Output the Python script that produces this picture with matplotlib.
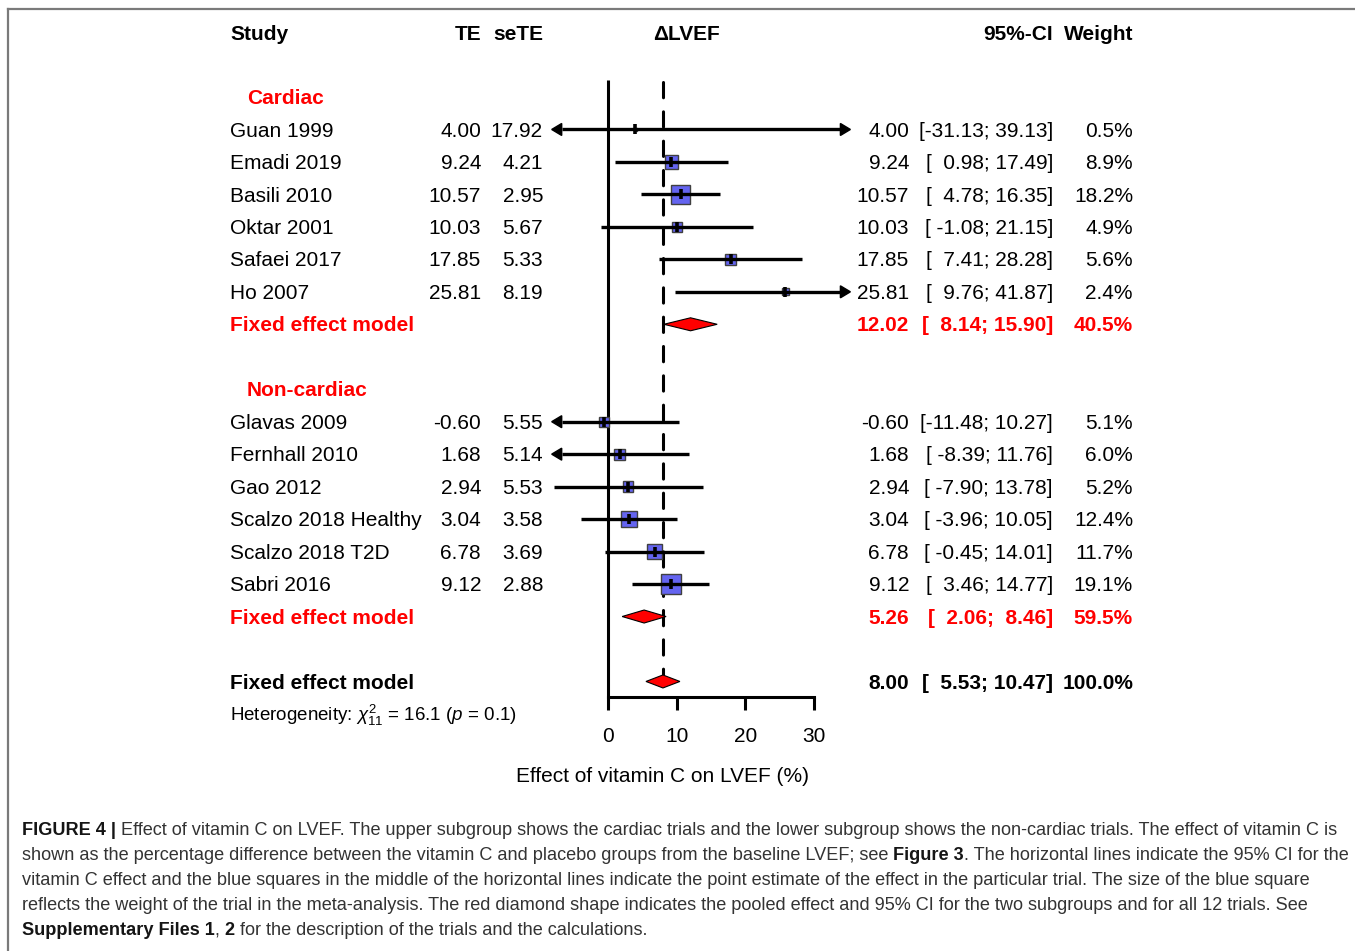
import matplotlib
matplotlib.use('Agg')
import matplotlib.pyplot as plt
from matplotlib.patches import Rectangle, Polygon
from matplotlib.lines import Line2D
from matplotlib.transforms import blended_transform_factory

plt.rcParams['font.family'] = 'Liberation Sans'
plt.rcParams['mathtext.fontset'] = 'custom'
plt.rcParams['mathtext.rm'] = 'Liberation Sans'
plt.rcParams['mathtext.it'] = 'Liberation Sans:italic'
plt.rcParams['mathtext.bf'] = 'Liberation Sans:bold'

# ---- data ----
cardiac_study = ['Guan 1999', 'Emadi 2019', 'Basili 2010', 'Oktar 2001', 'Safaei 2017', 'Ho 2007']
cardiac_te = [4.00, 9.24, 10.57, 10.03, 17.85, 25.81]
cardiac_sete = [17.92, 4.21, 2.95, 5.67, 5.33, 8.19]
cardiac_lower = [-31.13, 0.98, 4.78, -1.08, 7.41, 9.76]
cardiac_upper = [39.13, 17.49, 16.35, 21.15, 28.28, 41.87]
cardiac_weight = [0.5, 8.9, 18.2, 4.9, 5.6, 2.4]
cardiac_pooled = [12.02, 8.14, 15.90, 40.5]

noncardiac_study = ['Glavas 2009', 'Fernhall 2010', 'Gao 2012', 'Scalzo 2018 Healthy',
                    'Scalzo 2018 T2D', 'Sabri 2016']
noncardiac_te = [-0.60, 1.68, 2.94, 3.04, 6.78, 9.12]
noncardiac_sete = [5.55, 5.14, 5.53, 3.58, 3.69, 2.88]
noncardiac_lower = [-11.48, -8.39, -7.90, -3.96, -0.45, 3.46]
noncardiac_upper = [10.27, 11.76, 13.78, 10.05, 14.01, 14.77]
noncardiac_weight = [5.1, 6.0, 5.2, 12.4, 11.7, 19.1]
noncardiac_pooled = [5.26, 2.06, 8.46, 59.5]

overall_pooled = [8.00, 5.53, 10.47, 100.0]
x_ticks = [0, 10, 20, 30]

caption_lines = [
    [('FIGURE 4 |', True), (' Effect of vitamin C on LVEF. The upper subgroup shows the cardiac trials and the lower '
                            'subgroup shows the non-cardiac trials. The effect of vitamin C is', False)],
    [('shown as the percentage difference between the vitamin C and placebo groups from the baseline LVEF; see', False),
     (' Figure 3', True), ('. The horizontal lines indicate the 95% CI for the', False)],
    [('vitamin C effect and the blue squares in the middle of the horizontal lines indicate the point estimate '
      'of the effect in the particular trial. The size of the blue square', False)],
    [('reflects the weight of the trial in the meta-analysis. The red diamond shape indicates the pooled effect '
      'and 95% CI for the two subgroups and for all 12 trials. See', False)],
    [('Supplementary Files 1', True), (',', False), (' 2', True),
     (' for the description of the trials and the calculations.', False)],
]

# ---- layout (pixels) ----
W, H = 1355, 951
fig = plt.figure(figsize=(W / 100, H / 100), dpi=100)

XMIN, XMAX = -8.2, 35.3
X0_PX, X30_PX = 608, 814
PPU = (X30_PX - X0_PX) / 30.0
ROW0_PX, ROW_PX = 97, 32.47
AXIS_PX, TOP_PX = 697, 20
left_px = X0_PX + XMIN * PPU
right_px = X0_PX + XMAX * PPU

ax = fig.add_axes([left_px / W, 1 - AXIS_PX / H, (right_px - left_px) / W, (AXIS_PX - TOP_PX) / H])
ax.set_xlim(XMIN, XMAX)
ax.set_ylim((AXIS_PX - ROW0_PX) / ROW_PX, (TOP_PX - ROW0_PX) / ROW_PX)
for s in ['top', 'right', 'left']:
    ax.spines[s].set_visible(False)
ax.spines['bottom'].set_bounds(0, 30)
ax.spines['bottom'].set_linewidth(2.2)
ax.set_yticks([])
ax.set_xticks(x_ticks)
ax.tick_params(axis='x', length=9.5, width=2.2, labelsize=15, pad=12)
ax.patch.set_visible(False)

tr = blended_transform_factory(fig.transFigure, ax.transData)
RED = '#ff0000'
BLUE = '#6464f0'
BASE = 0.22  # baseline offset (rows) so text is centred on the row


def col_text(xpx, row, s, ha='left', bold=False, color='black', size=15):
    ax.text(xpx / W, row + BASE, s, transform=tr, ha=ha, va='baseline', fontsize=size,
            fontweight='bold' if bold else 'normal', color=color, clip_on=False)


def ci_str(lo, hi):
    return '[{:6.2f}; {:5.2f}]'.format(lo, hi)


# header
for xpx, s, ha in [(230, 'Study', 'left'), (481, 'TE', 'right'), (543, 'seTE', 'right'),
                   (687, '\u0394LVEF', 'center'), (1053, '95%-CI', 'right'), (1133, 'Weight', 'right')]:
    col_text(xpx, -1.97, s, ha=ha, bold=True)

# reference lines
ax.plot([0, 0], [-0.52, (AXIS_PX - ROW0_PX) / ROW_PX], color='black', lw=2.2, solid_capstyle='butt', clip_on=False)
ref, = ax.plot([overall_pooled[0]] * 2, [-0.45, 18.2], color='black', lw=2.2, clip_on=False,
               dash_capstyle='round')
ref.set_dashes((5.0, 4.6))

HALF_TICK = 5 / ROW_PX
ARR_L = 10 / PPU
ARR_H = 6 / ROW_PX


def draw_study(row, name, te, sete, lo, hi, w):
    col_text(230, row, name)
    col_text(481, row, '%.2f' % te, ha='right')
    col_text(543, row, '%.2f' % sete, ha='right')
    col_text(909, row, '%.2f' % te, ha='right')
    col_text(1053, row, ci_str(lo, hi), ha='right')
    col_text(1133, row, '%.1f%%' % w, ha='right')
    side = 4.6 * w ** 0.5
    ax.add_patch(Rectangle((te - side / 2 / PPU, row - side / 2 / ROW_PX), side / PPU, side / ROW_PX,
                           facecolor=BLUE, edgecolor='#404040', lw=1.0, zorder=3))
    a = max(lo, XMIN)
    b = min(hi, XMAX)
    xa = a + ARR_L if lo < XMIN else a
    xb = b - ARR_L if hi > XMAX else b
    ax.plot([xa, xb], [row, row], color='black', lw=2.4, solid_capstyle='butt', zorder=4, clip_on=False)
    if lo < XMIN:
        ax.add_patch(Polygon([(XMIN, row), (XMIN + ARR_L, row - ARR_H), (XMIN + ARR_L, row + ARR_H)],
                             closed=True, color='black', zorder=4, clip_on=False))
    if hi > XMAX:
        ax.add_patch(Polygon([(XMAX, row), (XMAX - ARR_L, row - ARR_H), (XMAX - ARR_L, row + ARR_H)],
                             closed=True, color='black', zorder=4, clip_on=False))
    ax.plot([te, te], [row - HALF_TICK, row + HALF_TICK], color='black', lw=2.6,
            solid_capstyle='butt', zorder=5)


def draw_pooled(row, vals, color):
    est, lo, hi, w = vals
    col_text(230, row, 'Fixed effect model', bold=True, color=color)
    col_text(909, row, '%.2f' % est, ha='right', bold=True, color=color)
    col_text(1053, row, ci_str(lo, hi), ha='right', bold=True, color=color)
    col_text(1133, row, '%.1f%%' % w, ha='right', bold=True, color=color)
    dh = 6.5 / ROW_PX
    ax.add_patch(Polygon([(lo, row), (est, row - dh), (hi, row), (est, row + dh)], closed=True,
                         facecolor=RED, edgecolor='black', lw=0.8, zorder=5))


col_text(247, 0, 'Cardiac', bold=True, color=RED)
for i in range(len(cardiac_study)):
    draw_study(1 + i, cardiac_study[i], cardiac_te[i], cardiac_sete[i], cardiac_lower[i],
               cardiac_upper[i], cardiac_weight[i])
draw_pooled(7, cardiac_pooled, RED)

col_text(247, 9, 'Non-cardiac', bold=True, color=RED)
for i in range(len(noncardiac_study)):
    draw_study(10 + i, noncardiac_study[i], noncardiac_te[i], noncardiac_sete[i], noncardiac_lower[i],
               noncardiac_upper[i], noncardiac_weight[i])
draw_pooled(16, noncardiac_pooled, RED)

draw_pooled(18, overall_pooled, 'black')
col_text(230, 19, r'Heterogeneity: $\chi^2_{11}$ = 16.1 ($p$ = 0.1)', size=13.5)

ax.text(overall_pooled[0], (775 - ROW0_PX) / ROW_PX + BASE, 'Effect of vitamin C on LVEF (%)',
        ha='center', va='baseline', fontsize=15, clip_on=False)

# frame lines around the figure panel
fig.add_artist(Line2D([8 / W, 8 / W], [0, 1 - 9 / H], color='#7a7a7a', lw=1.6))
fig.add_artist(Line2D([8 / W, 1], [1 - 9 / H, 1 - 9 / H], color='#7a7a7a', lw=1.6))

# caption with mixed bold / regular runs
renderer = fig.canvas.get_renderer()


def draw_runs(x_px, y_px, runs, size, draw=True):
    x = x_px
    made = []
    for txt, bold in runs:
        fw = 'bold' if bold else 'normal'
        col = '#151515' if bold else '#333333'
        lead = len(txt) - len(txt.lstrip(' '))
        if lead:
            t1 = fig.text(0, 0, 'a a', fontsize=size, fontweight=fw)
            t2 = fig.text(0, 0, 'aa', fontsize=size, fontweight=fw)
            x += lead * (t1.get_window_extent(renderer).width - t2.get_window_extent(renderer).width)
            t1.remove()
            t2.remove()
        t = fig.text(x / W, 1 - y_px / H, txt.lstrip(' '), fontsize=size, fontweight=fw, color=col,
                     va='baseline', ha='left')
        x += t.get_window_extent(renderer).width
        made.append(t)
    if not draw:
        for t in made:
            t.remove()
    return x - x_px


cap_size = 12.0
w1 = draw_runs(22, 835, caption_lines[0], cap_size, draw=False)
cap_size = cap_size * 1318.0 / w1
for k, runs in enumerate(caption_lines):
    draw_runs(22, 835 + 25 * k, runs, cap_size)

fig.savefig('out.png', dpi=100)
